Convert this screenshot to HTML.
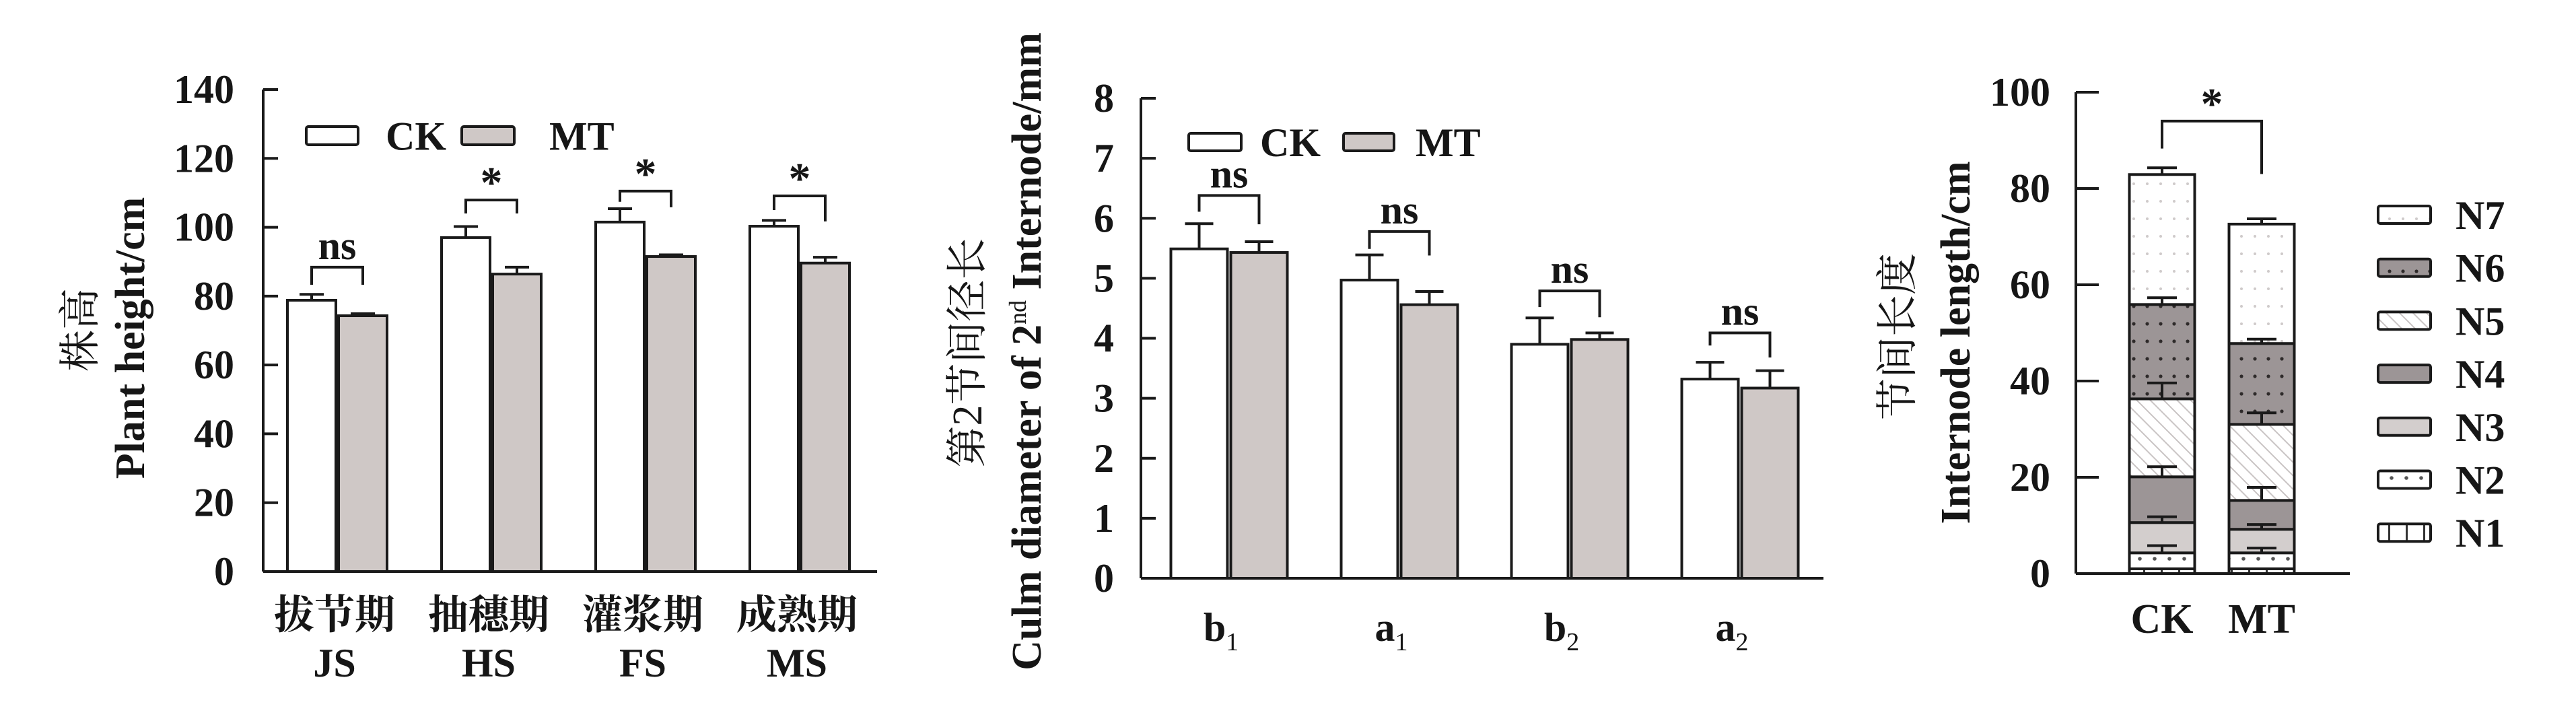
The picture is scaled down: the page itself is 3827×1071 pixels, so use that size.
<!DOCTYPE html>
<html><head><meta charset="utf-8">
<style>
html,body{margin:0;padding:0;background:#fff;}
svg{display:block;}
text{font-family:"Liberation Serif","Noto Serif CJK SC","Noto Sans CJK SC",serif;fill:#161616;}
</style></head>
<body>
<svg id="fig" width="3827" height="1071" viewBox="0 0 3827 1071" xmlns="http://www.w3.org/2000/svg">
<defs>
  <pattern id="pN7" width="20" height="26" patternUnits="userSpaceOnUse"><rect width="20" height="26" fill="#fff"/><circle cx="10" cy="13" r="2" fill="#cfcaca"/></pattern>
  <pattern id="pN6" width="20" height="26" patternUnits="userSpaceOnUse"><rect width="20" height="26" fill="#9c9596"/><circle cx="10" cy="13" r="2.6" fill="#2e2a2a"/></pattern>
  <pattern id="pN5" width="20" height="20" patternUnits="userSpaceOnUse"><rect width="20" height="20" fill="#fff"/><path d="M-5,-5 L25,25 M-5,15 L5,25 M15,-5 L25,5" stroke="#c9c4c4" stroke-width="2"/></pattern>
  <pattern id="pN2" width="22" height="20" patternUnits="userSpaceOnUse"><rect width="22" height="20" fill="#fff"/><circle cx="11" cy="10" r="2.8" fill="#555"/></pattern>
  <pattern id="pN1" width="26" height="20" patternUnits="userSpaceOnUse"><rect width="26" height="20" fill="#fff"/><rect x="12" y="0" width="3" height="20" fill="#333"/></pattern>
</defs>
<g id="p1"></g>
<g id="p2"></g>
<g id="p3"></g>
</svg>
<script>
// ---------- Panel 1 data ----------
const p1Categories = ["拔节期|JS","抽穗期|HS","灌浆期|FS","成熟期|MS"];
const p1CK = [78.8, 97.0, 101.5, 100.3];
const p1MT = [74.3, 86.4, 91.5, 89.6];
const p1CKerr = [1.7, 3.2, 3.9, 1.7];
const p1MTerr = [0.6, 2.0, 0.5, 1.7];
const p1Sig = ["ns","*","*","*"];
const p1BracketY = [88.4, 107.9, 110.5, 109.1];
const p1LegL = [83.3, 104.0, 107.4, 105.0];
const p1LegR = [83.3, 104.0, 105.8, 101.7];
const p1Ticks = [0,20,40,60,80,100,120,140];

// ---------- Panel 2 data ----------
const p2Categories = ["b|1","a|1","b|2","a|2"];
const p2CK = [5.49, 4.97, 3.90, 3.32];
const p2MT = [5.43, 4.56, 3.98, 3.17];
const p2CKerr = [0.42, 0.42, 0.44, 0.28];
const p2MTerr = [0.18, 0.22, 0.11, 0.29];
const p2Sig = ["ns","ns","ns","ns"];
const p2BracketY = [6.38, 5.78, 4.79, 4.09];
const p2LegL = [6.11, 5.49, 4.52, 3.88];
const p2LegR = [5.90, 5.38, 4.35, 3.68];
const p2Ticks = [0,1,2,3,4,5,6,7,8];

// ---------- Panel 3 data ----------
const p3Categories = ["CK","MT"];
const p3Series = ["N1","N2","N3","N4","N5","N6","N7"];
const p3CKtops = [1.0, 4.3, 10.6, 20.1, 36.3, 55.9, 82.9];
const p3MTtops = [1.0, 4.3, 9.2, 15.2, 31.0, 47.8, 72.6];
const p3CKerr = [0, 1.5, 1.2, 2.1, 3.3, 1.4, 1.4];
const p3MTerr = [0, 1.0, 1.0, 2.7, 2.4, 0.9, 1.1];
const p3Ticks = [0,20,40,60,80,100];
const p3Sig = "*";
const p3BracketY = 94;
const p3LegL = 88.3;
const p3LegR = 83;

const NS = "http://www.w3.org/2000/svg";
function mk(parent, tag, attrs, txt){
  const e = document.createElementNS(NS, tag);
  for (const k in attrs) e.setAttribute(k, attrs[k]);
  if (txt !== undefined) e.textContent = txt;
  parent.appendChild(e);
  return e;
}
const INK = "#1a1a1a";
const MTFILL = "#cfc8c6";

function axisY(g, axX, y0, y1, vmax, ticks, labelRight, name){
  const sy = v => y0 - (y0 - y1) * v / vmax;
  const ax = mk(g,"line",{x1:axX,y1:sy(vmax),x2:axX,y2:y0,stroke:INK,"stroke-width":4});
  
  
  ticks.forEach(t=>{
    const tk = mk(g,"line",{x1:axX,y1:sy(t),x2:axX+22,y2:sy(t),stroke:INK,"stroke-width":4});
    
    
    const lb = mk(g,"text",{x:labelRight,y:sy(t)+20,"text-anchor":"end","font-size":60,"font-weight":"bold"},String(t));
    
    
  });
  return sy;
}
function errBar(g, cx, yTop, yErr, half){
  const l = mk(g,"path",{d:`M${cx},${yTop} V${yErr} M${cx-half},${yErr} H${cx+half}`,stroke:INK,"stroke-width":4,fill:"none"});
  
  
}
function bracket(g, xl, xr, y, yl, yr, label, labelSize){
  const b = mk(g,"path",{d:`M${xl},${yl} V${y} H${xr} V${yr}`,stroke:INK,"stroke-width":4,fill:"none"});
  
  
  const isStar = label === "*";
  const t = mk(g,"text",{x:(xl+xr)/2,y: isStar ? y-4 : y-12,"text-anchor":"middle","font-size": isStar ? 66 : labelSize,"font-weight":"bold"},label);
  
  
}
function legendBox(g,x,y,w,h,fill,label,tx,name){
  const r = mk(g,"rect",{x:x,y:y,width:w,height:h,fill:fill,stroke:INK,"stroke-width":4,rx:3});
  
  
  const t = mk(g,"text",{x:tx,y:y+h/2+21,"font-size":60,"font-weight":"bold"},label);
  
  
}

// ================= Panel 1 =================
(function(){
  const g = document.getElementById('p1');
  const axX=391, y0=849, y1=133, vmax=140;
  const sy = axisY(g, axX, y0, y1, vmax, p1Ticks, 348, 'plant-height');
  const xa = mk(g,"line",{x1:axX,y1:y0,x2:1303,y2:y0,stroke:INK,"stroke-width":4});
  
  
  const c0=501, step=229, bw=72, gap=4;
  p1Categories.forEach((cat,i)=>{
    const cx = c0 + step*i;
    const xCK = cx - gap/2 - bw, xMT = cx + gap/2;
    const r1 = mk(g,"rect",{x:xCK,y:sy(p1CK[i]),width:bw,height:y0-sy(p1CK[i]),fill:"#fff",stroke:INK,"stroke-width":4});
    
    
    const r2 = mk(g,"rect",{x:xMT,y:sy(p1MT[i]),width:bw,height:y0-sy(p1MT[i]),fill:MTFILL,stroke:INK,"stroke-width":4});
    
    
    errBar(g, xCK+bw/2, sy(p1CK[i]), sy(p1CK[i]+p1CKerr[i]), 18);
    errBar(g, xMT+bw/2, sy(p1MT[i]), sy(p1MT[i]+p1MTerr[i]), 18);
    bracket(g, xCK+bw/2, xMT+bw/2, sy(p1BracketY[i]), sy(p1LegL[i]), sy(p1LegR[i]), p1Sig[i], 60);
    const parts = cat.split('|');
    const t1 = mk(g,"text",{x:cx-4,y:934,"text-anchor":"middle","font-size":60,"font-weight":"bold"},parts[0]);
    
    
    const t2 = mk(g,"text",{x:cx-4,y:1005,"text-anchor":"middle","font-size":60,"font-weight":"bold"},parts[1]);
    
    
  });
  legendBox(g,455,188,77,27,"#fff","CK",573,'legend-ck');
  legendBox(g,686,188,78,27,MTFILL,"MT",816,'legend-mt');
  const yt = mk(g,"text",{transform:"translate(140,490) rotate(-90)","text-anchor":"middle","font-size":62},"株高");
  
  
  const yt2 = mk(g,"text",{transform:"translate(214,502) rotate(-90)","text-anchor":"middle","font-size":62,"font-weight":"bold"},"Plant height/cm");
  
  
})();

// ================= Panel 2 =================
(function(){
  const g = document.getElementById('p2');
  const axX=1695, y0=859, y1=146, vmax=8;
  const sy = axisY(g, axX, y0, y1, vmax, p2Ticks, 1655, 'culm-diameter');
  const xa = mk(g,"line",{x1:axX,y1:y0,x2:2709,y2:y0,stroke:INK,"stroke-width":4});
  
  
  const c0=1826, step=253, bw=84, gap=5;
  p2Categories.forEach((cat,i)=>{
    const cx = c0 + step*i;
    const xCK = cx - gap/2 - bw, xMT = cx + gap/2;
    const r1 = mk(g,"rect",{x:xCK,y:sy(p2CK[i]),width:bw,height:y0-sy(p2CK[i]),fill:"#fff",stroke:INK,"stroke-width":4});
    
    
    const r2 = mk(g,"rect",{x:xMT,y:sy(p2MT[i]),width:bw,height:y0-sy(p2MT[i]),fill:MTFILL,stroke:INK,"stroke-width":4});
    
    
    errBar(g, xCK+bw/2, sy(p2CK[i]), sy(p2CK[i]+p2CKerr[i]), 21);
    errBar(g, xMT+bw/2, sy(p2MT[i]), sy(p2MT[i]+p2MTerr[i]), 21);
    bracket(g, xCK+bw/2, xMT+bw/2, sy(p2BracketY[i]), sy(p2LegL[i]), sy(p2LegR[i]), p2Sig[i], 60);
    const parts = cat.split('|');
    const t = mk(g,"text",{x:cx-12,y:952,"text-anchor":"middle","font-size":60,"font-weight":"bold"});
    
    
    mk(t,"tspan",{},parts[0]);
    mk(t,"tspan",{dy:14,"font-size":38,"font-weight":"normal"},parts[1]);
  });
  legendBox(g,1766,198,78,26,"#fff","CK",1872,'legend-ck');
  legendBox(g,1996,198,75,26,MTFILL,"MT",2103,'legend-mt');
  const yt = mk(g,"text",{transform:"translate(1458,524) rotate(-90)","text-anchor":"middle","font-size":62},"第2节间径长");
  
  
  const yt2 = mk(g,"text",{transform:"translate(1546,522) rotate(-90)","text-anchor":"middle","font-size":62,"font-weight":"bold"});
  
  
  mk(yt2,"tspan",{},"Culm diameter of 2");
  mk(yt2,"tspan",{dy:-22,"font-size":36,"font-weight":"normal"},"nd");
  mk(yt2,"tspan",{dy:22}," Internode/mm");
})();

// ================= Panel 3 =================
(function(){
  const g = document.getElementById('p3');
  const axX=3084, y0=852, y1=137, vmax=100;
  const sy = v => y0 - (y0-y1)*v/vmax;
  const ax = mk(g,"line",{x1:axX,y1:y1,x2:axX,y2:y0,stroke:INK,"stroke-width":4});
  
  
  p3Ticks.forEach(t=>{
    const tk = mk(g,"line",{x1:axX,y1:sy(t),x2:axX+34,y2:sy(t),stroke:INK,"stroke-width":4});
    
    
    const lb = mk(g,"text",{x:3046,y:sy(t)+20,"text-anchor":"end","font-size":60,"font-weight":"bold"},String(t));
    
    
  });
  const xa = mk(g,"line",{x1:axX,y1:y0,x2:3491,y2:y0,stroke:INK,"stroke-width":4});
  
  
  const fills = ["url(#pN1)","url(#pN2)","#d3cecd","#9c9596","url(#pN5)","url(#pN6)","url(#pN7)"];
  const c0=3212, step=148, bw=97;
  const tops = [p3CKtops, p3MTtops], errs=[p3CKerr, p3MTerr];
  p3Categories.forEach((cat,i)=>{
    const cx = c0 + step*i, x = cx - bw/2;
    let prev = 0;
    tops[i].forEach((top,k)=>{
      const r = mk(g,"rect",{x:x,y:sy(top),width:bw,height:sy(prev)-sy(top),fill:fills[k],stroke:INK,"stroke-width":4});
      
      
      prev = top;
    });
    tops[i].forEach((top,k)=>{
      if (errs[i][k] > 0) errBar(g, cx, sy(top), sy(top+errs[i][k]), 22);
    });
    const t = mk(g,"text",{x:cx,y:940,"text-anchor":"middle","font-size":62,"font-weight":"bold"},cat);
    
    
  });
  bracket(g, c0, c0+step, sy(p3BracketY), sy(p3LegL), sy(p3LegR), p3Sig, 60);
  const legendOrder = [6,5,4,3,2,1,0];
  legendOrder.forEach((k,j)=>{
    const cy = 319 + 78.7*j;
    legendBox(g,3533,cy-13,78,26,fills[k],p3Series[k],3648,'legend-'+p3Series[k].toLowerCase());
  });
  const yt = mk(g,"text",{transform:"translate(2840,500) rotate(-90)","text-anchor":"middle","font-size":62},"节间长度");
  
  
  const yt2 = mk(g,"text",{transform:"translate(2926,509) rotate(-90)","text-anchor":"middle","font-size":62,"font-weight":"bold"},"Internode length/cm");
  
  
})();
</script>
</body></html>
